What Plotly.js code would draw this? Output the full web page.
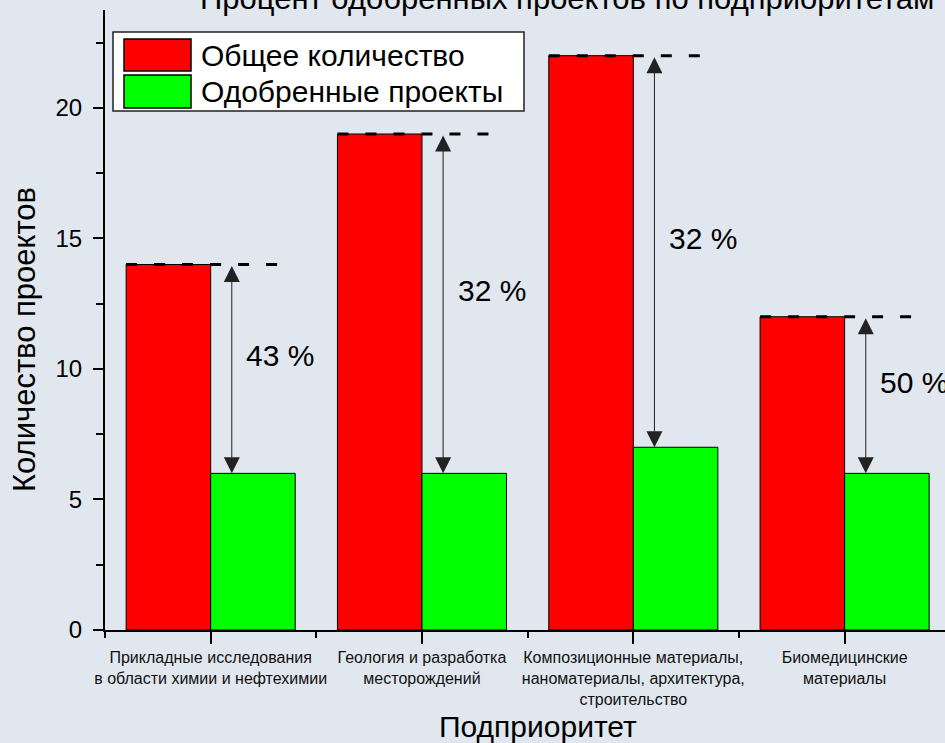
<!DOCTYPE html>
<html>
<head>
<meta charset="utf-8">
<script src="https://cdn.plot.ly/plotly-3.0.1.min.js"></script>
<style>html,body{margin:0;padding:0;background:#e1e7ee;}#chart{width:945px;height:743px;}</style>
</head>
<body>
<div id="chart"></div>
<script>
// ---- data ----
const categories = [
  'Прикладные исследования<br>в области химии и нефтехимии',
  'Геология и разработка<br>месторождений',
  'Композиционные материалы,<br>наноматериалы, архитектура,<br>строительство',
  'Биомедицинские<br>материалы'
];
const totalProjects = [14, 19, 22, 12];
const approvedProjects = [6, 6, 7, 6];
const seriesNames = ['Общее количество', 'Одобренные проекты'];
const chartTitle = 'Процент одобренных проектов по подприоритетам';
const xTitle = 'Подприоритет';
const yTitle = 'Количество проектов';

// ---- layout helpers (pixel -> paper) ----
const W = 945, H = 743, ML = 105, MR = 0, MT = 10, MB = 113;
const PW = W - ML - MR, PH = H - MT - MB;
const px = v => (v - ML) / PW;
const py = v => (H - MB - v) / PH;
const FONT = 'Liberation Sans, Arial, sans-serif';
const colors = ['#ff0000', '#00ff00'];

const xIdx = categories.map((_, i) => i);

const traces = [
  { type: 'bar', x: xIdx, y: totalProjects, name: seriesNames[0],
    marker: { color: colors[0], line: { color: '#000', width: 1 } }, showlegend: false },
  { type: 'bar', x: xIdx, y: approvedProjects, name: seriesNames[1],
    marker: { color: colors[1], line: { color: '#000', width: 1 } }, showlegend: false }
];

const shapes = [];
const annotations = [];

xIdx.forEach((i) => {
  // dashed reference line at total level
  shapes.push({ type: 'line', xref: 'x', yref: 'y', x0: i - 0.4, x1: i + 0.33,
    y0: totalProjects[i], y1: totalProjects[i],
    line: { color: '#000', width: 3, dash: '11px,17px' } });
  // double arrow
  annotations.push({ xref: 'x', yref: 'y', axref: 'x', ayref: 'y',
    x: i + 0.1, y: approvedProjects[i], ax: i + 0.1, ay: totalProjects[i],
    text: '', showarrow: true, arrowside: 'end+start', arrowhead: 2,
    arrowsize: 3.2, arrowwidth: 1, arrowcolor: '#222', standoff: 0, startstandoff: 0 });
  // percentage label
  const pct = Math.round(approvedProjects[i] / totalProjects[i] * 100);
  annotations.push({ xref: 'x', yref: 'y', x: i + 0.33,
    y: (totalProjects[i] + approvedProjects[i]) / 2 + 0.5,
    text: pct + ' %', showarrow: false, xanchor: 'center', yanchor: 'middle',
    font: { family: FONT, size: 30, color: '#000' } });
});

// custom legend
shapes.push({ type: 'rect', xref: 'paper', yref: 'paper', x0: px(113), x1: px(524), y0: py(111), y1: py(32),
  fillcolor: '#ffffff', line: { color: '#222', width: 1.5 } });
[[39, 71], [75, 108]].forEach((yy, k) => {
  shapes.push({ type: 'rect', xref: 'paper', yref: 'paper', x0: px(124), x1: px(191), y0: py(yy[1]), y1: py(yy[0]),
    fillcolor: colors[k], line: { color: '#000', width: 1.5 } });
  annotations.push({ xref: 'paper', yref: 'paper', x: px(199), y: py((yy[0] + yy[1]) / 2),
    text: seriesNames[k], showarrow: false, xanchor: 'left', yanchor: 'middle',
    font: { family: FONT, size: 30, color: '#000' } });
});

// title (partly cut off at top, as in reference)
annotations.push({ xref: 'paper', yref: 'paper', x: px(567), y: py(-2), text: chartTitle,
  showarrow: false, xanchor: 'center', yanchor: 'middle',
  font: { family: FONT, size: 31, color: '#000' } });

// axis titles
annotations.push({ xref: 'paper', yref: 'paper', x: px(538), y: py(726), text: xTitle,
  showarrow: false, xanchor: 'center', yanchor: 'middle',
  font: { family: FONT, size: 30, color: '#000' } });
annotations.push({ xref: 'paper', yref: 'paper', x: px(24), y: py(340), text: yTitle,
  showarrow: false, xanchor: 'center', yanchor: 'middle', textangle: -90,
  font: { family: FONT, size: 31, color: '#000' } });

const layout = {
  width: W, height: H,
  margin: { l: ML, r: MR, t: MT, b: MB, pad: 0 },
  paper_bgcolor: '#e1e7ee', plot_bgcolor: 'rgba(0,0,0,0)',
  font: { family: FONT, color: '#000' },
  barmode: 'group', bargap: 0.2, bargroupgap: 0,
  showlegend: false,
  xaxis: {
    range: [-0.5, 3.475], tickmode: 'array', tickvals: xIdx, ticktext: categories,
    showline: true, linecolor: '#000', linewidth: 2, showgrid: false, zeroline: false,
    ticks: 'outside', ticklen: 12, tickwidth: 2, tickcolor: '#000',
    minor: { tick0: 0.5, dtick: 1, ticks: 'outside', ticklen: 6, tickwidth: 2, tickcolor: '#000' },
    tickfont: { family: FONT, size: 16, color: '#111' },
    automargin: false, fixedrange: true
  },
  yaxis: {
    range: [0, 23.75], dtick: 5, tick0: 0,
    showline: true, linecolor: '#000', linewidth: 2, showgrid: false, zeroline: false,
    ticks: 'outside', ticklen: 10, tickwidth: 2, tickcolor: '#000',
    minor: { dtick: 2.5, ticks: 'outside', ticklen: 7, tickwidth: 2, tickcolor: '#000' },
    tickfont: { family: FONT, size: 24, color: '#000' }, ticklabelstandoff: 6,
    automargin: false, fixedrange: true
  },
  shapes: shapes,
  annotations: annotations
};

Plotly.newPlot('chart', traces, layout, { staticPlot: true, displayModeBar: false });
</script>
</body>
</html>
